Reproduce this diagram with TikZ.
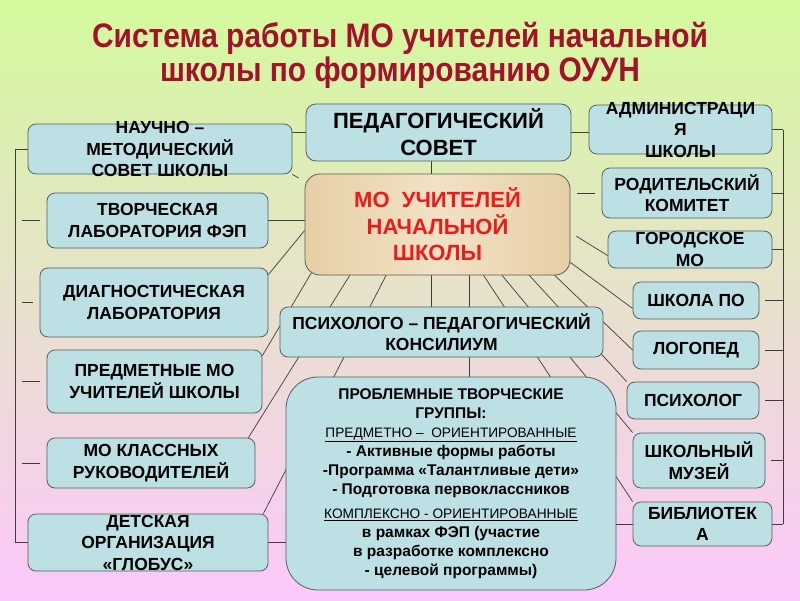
\documentclass[tikz,border=0pt]{standalone}
\usepackage{fontspec}
\setmainfont{Liberation Sans}
\newfontfamily\titlefont{Liberation Sans}[FakeStretch=0.88]
\usetikzlibrary{calc}
\usetikzlibrary{backgrounds}

\definecolor{boxblue}{HTML}{BCE0E3}
\definecolor{frame}{HTML}{55605F}
\definecolor{wire}{HTML}{3C3C3C}
\definecolor{ttlred}{HTML}{A3112B}
\definecolor{hubred}{HTML}{EE1A1A}
\definecolor{bgtop}{HTML}{D3FA9C}
\definecolor{bgmid}{HTML}{ECE6CF}
\definecolor{bgbot}{HTML}{FCC8FB}
\definecolor{woodA}{HTML}{E6CFA4}
\definecolor{woodB}{HTML}{F1E2C6}

\tikzset{
 blk/.style={draw=frame, fill=boxblue, line width=0.8pt, rounded corners=8pt, inner sep=0pt},
 txt/.style={font=\bfseries\fontsize{17.5}{21.5}\selectfont, align=center, inner sep=0pt},
 big/.style={font=\bfseries\fontsize{22}{27}\selectfont, align=center, inner sep=0pt},
 link/.style={draw=wire, line width=0.7pt},
}

\begin{document}
\begin{tikzpicture}[x=1pt, y=-1pt]
\useasboundingbox (0,0) rectangle (800,600);

% title
\node[font=\titlefont\bfseries\fontsize{34}{34}\selectfont, text=ttlred, align=center] (ttl) at (400,55)
  {Система работы МО учителей начальной\\школы по формированию ОУУН};

% centre column
\node[blk, rounded corners=10pt, minimum width=265, minimum height=57,
  label={[big]center:{ПЕДАГОГИЧЕСКИЙ\\СОВЕТ}}] (ped) at (438.5,132.5) {};
\node[blk, rounded corners=15pt, left color=woodA, right color=woodA, middle color=woodB,
  minimum width=265, minimum height=101,
  label={[big, text=hubred, font=\bfseries\fontsize{22}{26.5}\selectfont]center:{МО~ УЧИТЕЛЕЙ\\НАЧАЛЬНОЙ\\ШКОЛЫ}}] (hub) at (437.5,224.5) {};
\node[blk, minimum width=323, minimum height=50,
  label={[txt, font=\bfseries\fontsize{17.5}{20.5}\selectfont]center:{ПСИХОЛОГО – ПЕДАГОГИЧЕСКИЙ\\КОНСИЛИУМ}}] (ppk) at (441.5,332) {};
\node[blk, rounded corners=32pt, minimum width=330, minimum height=213,
  label={[txt, font=\bfseries\fontsize{15.5}{19}\selectfont]center:{ПРОБЛЕМНЫЕ ТВОРЧЕСКИЕ\\ГРУППЫ:\\
  {\mdseries\fontsize{13.7}{19}\selectfont\underline{ПРЕДМЕТНО –~ ОРИЕНТИРОВАННЫЕ}}\\
  - Активные формы работы\\-Программа «Талантливые дети»\\- Подготовка первоклассников\\[5pt]
  {\mdseries\fontsize{13.7}{19}\selectfont\underline{КОМПЛЕКСНО - ОРИЕНТИРОВАННЫЕ}}\\
  в рамках ФЭП (участие\\в разработке комплексно\\- целевой программы)}}] (probl) at (451,483.5) {};

% left column
\node[blk, minimum width=264, minimum height=50,
  label={[txt]center:{НАУЧНО –\\МЕТОДИЧЕСКИЙ\\СОВЕТ ШКОЛЫ}}] (nauch) at (160,149) {};
\node[blk, minimum width=221, minimum height=55,
  label={[txt]center:{ТВОРЧЕСКАЯ\\ЛАБОРАТОРИЯ ФЭП}}] (tvor) at (157.5,220.5) {};
\node[blk, minimum width=228, minimum height=69,
  label={[txt]center:{ДИАГНОСТИЧЕСКАЯ\\ЛАБОРАТОРИЯ}}] (diag) at (154,302.5) {};
\node[blk, minimum width=215, minimum height=63,
  label={[txt]center:{ПРЕДМЕТНЫЕ МО\\УЧИТЕЛЕЙ ШКОЛЫ}}] (predm) at (154.5,381.5) {};
\node[blk, minimum width=208, minimum height=50,
  label={[txt]center:{МО КЛАССНЫХ\\РУКОВОДИТЕЛЕЙ}}] (klass) at (151,463) {};
\node[blk, minimum width=240, minimum height=57,
  label={[txt]center:{ДЕТСКАЯ\\ОРГАНИЗАЦИЯ\\«ГЛОБУС»}}] (detsk) at (148,542.5) {};

% right column
\node[blk, minimum width=183, minimum height=49,
  label={[txt]center:{АДМИНИСТРАЦИ\\Я\\ШКОЛЫ}}] (admin) at (680.5,129.5) {};
\node[blk, minimum width=170, minimum height=50,
  label={[txt]center:{РОДИТЕЛЬСКИЙ\\КОМИТЕТ}}] (rodit) at (687,193) {};
\node[blk, minimum width=164, minimum height=37,
  label={[txt]center:{ГОРОДСКОЕ\\МО}}] (gorod) at (690,249.5) {};
\node[blk, minimum width=126, minimum height=37,
  label={[txt]center:{ШКОЛА ПО}}] (shpo) at (696,300.5) {};
\node[blk, minimum width=126, minimum height=38,
  label={[txt]center:{ЛОГОПЕД}}] (logo) at (696,350) {};
\node[blk, minimum width=132, minimum height=37,
  label={[txt]center:{ПСИХОЛОГ}}] (psih) at (693,400.5) {};
\node[blk, minimum width=132, minimum height=55,
  label={[txt]center:{ШКОЛЬНЫЙ\\МУЗЕЙ}}] (muz) at (699,460.5) {};
\node[blk, minimum width=139, minimum height=44,
  label={[txt]center:{БИБЛИОТЕК\\А}}] (bibl) at (702.5,524) {};

\begin{scope}[on background layer]
\shade[top color=bgtop, middle color=bgmid, bottom color=bgbot] (0,0) rectangle (800,600);

% fan of lines under the hub
\foreach \s [count=\i] in {7,47,83,127,165,177,195,222,247}
  \coordinate (h\i) at ($(hub.south west)+(\s,-3)$);
\draw[link] (h1) -- ($(predm.north east)+(0,6)$);
\draw[link] (h2) -- ($(klass.north east)+(-7,0)$);
\draw[link] (h3) -- ($(detsk.north east)+(-5,0)$);
\draw[link] (h4 |- ped.south) -- (h4 |- ppk.north);
\draw[link] (h5) -- (h5 |- probl.north);
\draw[link] (h6) -- (bibl.north west);
\draw[link] (h7) -- (muz.north west);
\draw[link] (h8) -- (psih.north west);
\draw[link] (h9) -- (logo.west);
\draw[link] ($(hub.south east)+(0,-13)$) -- ($(shpo.west)+(0,8)$);
\draw[link, shorten <=7pt] ($(hub.east)+(0,8)$) -- ($(gorod.west)+(0,6)$);
\draw[link, shorten <=7pt, shorten >=7pt] (hub.east |- rodit.west) -- (rodit.west);

% short links between neighbours
\draw[link] (ped.east) -- (ped.east -| admin.west);
\draw[link] (nauch.east |- ped.west) -- (ped.west);
\draw[link, shorten >=7pt] (nauch.south east) -- ($(hub.north west)+(0,8)$);
\draw[link] (tvor.east) -- (tvor.east -| hub.west);
\draw[link] ($(diag.north east)+(0,7)$) -- ($(hub.west)+(0,6)$);
\draw[link] (detsk.east) -- (detsk.east -| probl.west);
\draw[link] (bibl.west -| probl.east) -- (bibl.west);

% side buses
\coordinate (lbus) at (15,0);
\coordinate (rbus) at (783,0);
\draw[link] (nauch.west) -- (nauch.west -| lbus) -- (detsk.west -| lbus) -- (detsk.west);
\foreach \b in {tvor,diag,predm,klass}
  \draw[link, shorten <=7pt, shorten >=7pt] (\b.west -| lbus) -- (\b.west);
\draw[link] (admin.east -| rbus) -- (bibl.east -| rbus);
\foreach \b in {admin,rodit,gorod,bibl}
  \draw[link] (\b.east) -- (\b.east -| rbus);
\foreach \b in {shpo,logo,psih,muz}
  \draw[link, shorten <=6pt] (\b.east) -- (\b.east -| rbus);
\end{scope}
\end{tikzpicture}
\end{document}
